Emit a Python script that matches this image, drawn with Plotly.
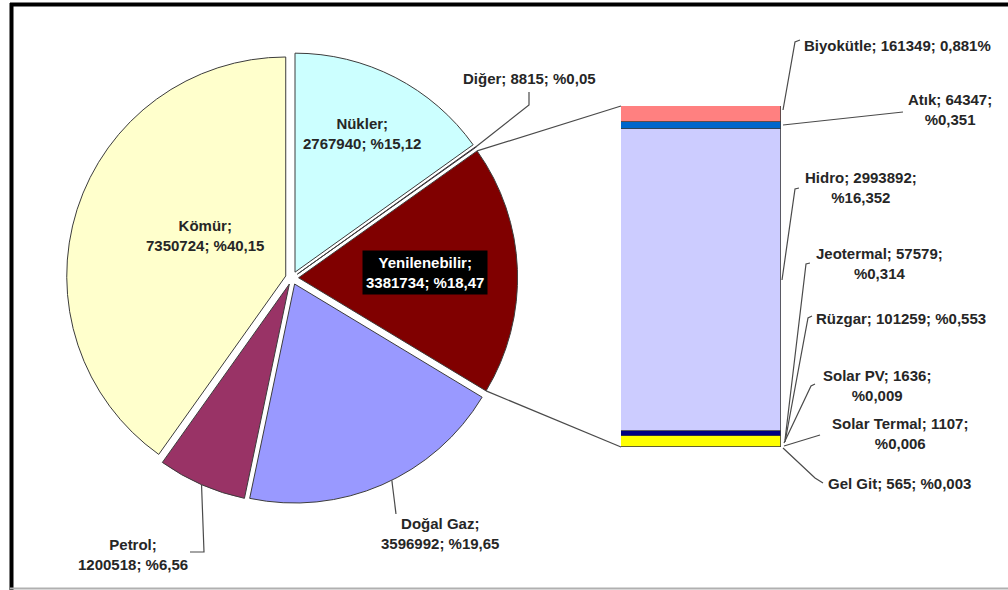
import math
import plotly.graph_objects as go

W, H = 1008, 590

# ---- data ----
pie_labels = ["Nükler", "Diğer", "Yenilenebilir", "Doğal Gaz", "Petrol", "Kömür"]
pie_values = [2767940, 8815, 3381734, 3596992, 1200518, 7350724]
pie_pct = ["%15,12", "%0,05", "%18,47", "%19,65", "%6,56", "%40,15"]
pie_colors = ["#CCFFFF", "#660066", "#800000", "#9999FF", "#993366", "#FFFFCC"]

bar_labels = ["Biyokütle", "Atık", "Hidro", "Jeotermal", "Rüzgar",
              "Solar PV", "Solar Termal", "Gel Git"]
bar_values = [161349, 64347, 2993892, 57579, 101259, 1636, 1107, 565]
bar_pct = ["0,881%", "%0,351", "%16,352", "%0,314", "%0,553",
           "%0,009", "%0,006", "%0,003"]
bar_colors = ["#FF8080", "#0066CC", "#CCCCFF", "#000080", "#FFFF00",
              "#FF00FF", "#00FFFF", "#800080"]

# ---- layout helpers (pixel -> paper) ----
def px(x):
    return x / W

def py(y):
    return 1 - y / H

FONT = "Liberation Sans, Arial, sans-serif"
TXT = "#262626"
LEAD = "#4a4a4a"

# pie placement
PULL = 0.03
CX, CY, R = 292, 278, 219
half = R * (1 + PULL)

fig = go.Figure()

fig.add_trace(go.Pie(
    labels=pie_labels, values=pie_values, sort=False, direction="clockwise",
    rotation=0, textinfo="none", hoverinfo="label+value+percent",
    marker=dict(colors=pie_colors, line=dict(color="#3c3c3c", width=1)),
    pull=[PULL] * len(pie_values), showlegend=False,
    domain=dict(x=[px(CX - half), px(CX + half)],
                y=[py(CY + half), py(CY - half)]),
))

# slice geometry helper: point on outer edge of slice i at fraction f (0..1) of its span
tot = sum(pie_values)
cum = [0]
for v in pie_values:
    cum.append(cum[-1] + v)

def edge_pt(i, f):
    a0 = cum[i] / tot * 2 * math.pi
    a1 = cum[i + 1] / tot * 2 * math.pi
    am = (a0 + a1) / 2
    a = a0 + (a1 - a0) * f
    ox, oy = PULL * R * math.sin(am), -PULL * R * math.cos(am)
    return (CX + ox + R * math.sin(a), CY + oy - R * math.cos(a))

# stacked bar (bottom first)
bar_box = (621, 106, 781, 447)
for lab, val, col in reversed(list(zip(bar_labels, bar_values, bar_colors))):
    fig.add_trace(go.Bar(
        x=[0], y=[val], name=lab, width=1, showlegend=False,
        marker=dict(color=col, line=dict(color="#3c3c3c", width=0.8)),
    ))

total_bar = sum(bar_values)

# ---- labels ----
def fmt(name, val, pct, brk):
    if brk == 0:
        return f"{name}; {val}; {pct}"
    if brk == 1:
        return f"{name};<br>{val}; {pct}"
    return f"{name}; {val};<br>{pct}"

pie_label_pos = [
    (362, 134, "center", 1),   # Nükler
    (529, 78, "center", 0),    # Diğer
    (425, 272, "center", 1),   # Yenilenebilir
    (440, 533, "center", 1),   # Doğal Gaz
    (133, 554, "center", 1),   # Petrol
    (205, 235, "center", 1),   # Kömür
]
bar_label_pos = [
    (802, 45, "left", 0),      # Biyokütle
    (950, 110, "center", 2),   # Atık
    (861, 188, "center", 2),   # Hidro
    (879, 263, "center", 2),   # Jeotermal
    (814, 318, "left", 0),     # Rüzgar
    (877, 385, "center", 2),   # Solar PV
    (900, 434, "center", 2),   # Solar Termal
    (826, 483, "left", 0),     # Gel Git
]

annotations = []
for lab, val, pct, (x, y, anc, brk) in zip(pie_labels, pie_values, pie_pct, pie_label_pos):
    special = lab == "Yenilenebilir"
    annotations.append(dict(
        x=px(x), y=py(y), xref="paper", yref="paper", showarrow=False,
        text=f"<b>{fmt(lab, val, pct, brk)}</b>", xanchor=anc, yanchor="middle",
        align="center",
        font=dict(family=FONT, size=15, color="white" if special else TXT),
        bgcolor="black" if special else None, borderpad=3 if special else 0,
    ))
for lab, val, pct, (x, y, anc, brk) in zip(bar_labels, bar_values, bar_pct, bar_label_pos):
    annotations.append(dict(
        x=px(x), y=py(y), xref="paper", yref="paper", showarrow=False,
        text=f"<b>{fmt(lab, val, pct, brk)}</b>", xanchor=anc, yanchor="middle",
        align="center", font=dict(family=FONT, size=15, color=TXT),
    ))

# ---- leader / connector lines (px polylines) ----
i_dig, i_yen, i_dog, i_pet = 1, 2, 3, 4
leaders = [
    [(529, 92), (529, 105), edge_pt(i_dig, 0.5)],          # Diğer
    [edge_pt(i_dog, 0.46), (396, 514)],                    # Doğal Gaz
    [edge_pt(i_pet, 0.5), (204, 552), (190, 552)],         # Petrol
    [(800, 40), (795, 42), (783, 110)],                    # Biyokütle
    [(783, 125), (903, 112)],                              # Atık
    [(799, 188), (795, 189), (782, 280)],                  # Hidro
    [(810, 263), (806, 264), (785, 440)],                  # Jeotermal
    [(812, 316), (808, 318), (785, 442)],                  # Rüzgar
    [(815, 384), (811, 386), (784, 443)],                  # Solar PV
    [(820, 435), (784, 446)],                              # Solar Termal
    [(823, 483), (815, 478), (783, 448)],                  # Gel Git
]
connectors = [
    [edge_pt(i_yen, 0.0), (bar_box[0], bar_box[1])],
    [edge_pt(i_yen, 1.0), (bar_box[0], bar_box[3])],
]

def path(pts):
    return "M " + " L ".join(f"{px(x):.5f},{py(y):.5f}" for x, y in pts)

shapes = []
for pts in leaders + connectors:
    shapes.append(dict(type="path", path=path(pts), xref="paper", yref="paper",
                       line=dict(color=LEAD, width=1.2)))

# frame
shapes += [
    dict(type="line", xref="paper", yref="paper", x0=px(11.5), x1=px(11.5),
         y0=py(3), y1=py(590), line=dict(color="black", width=4)),
    dict(type="line", xref="paper", yref="paper", x0=px(10), x1=px(1010),
         y0=py(4.5), y1=py(4.5), line=dict(color="black", width=4)),
    dict(type="line", xref="paper", yref="paper", x0=px(10), x1=px(1010),
         y0=py(588.5), y1=py(588.5), line=dict(color="#b0b0b0", width=2)),
]

fig.update_layout(
    width=W, height=H, margin=dict(l=0, r=0, t=0, b=0),
    paper_bgcolor="white", plot_bgcolor="rgba(0,0,0,0)",
    barmode="stack", bargap=0,
    xaxis=dict(domain=[px(bar_box[0]), px(bar_box[2])], range=[-0.5, 0.5],
               visible=False, fixedrange=True),
    yaxis=dict(domain=[py(bar_box[3]), py(bar_box[1])], range=[0, total_bar],
               visible=False, fixedrange=True),
    annotations=annotations, shapes=shapes,
)

fig.write_html("out.html", config={"displayModeBar": False},
               post_script="document.body.style.margin='0px';")
